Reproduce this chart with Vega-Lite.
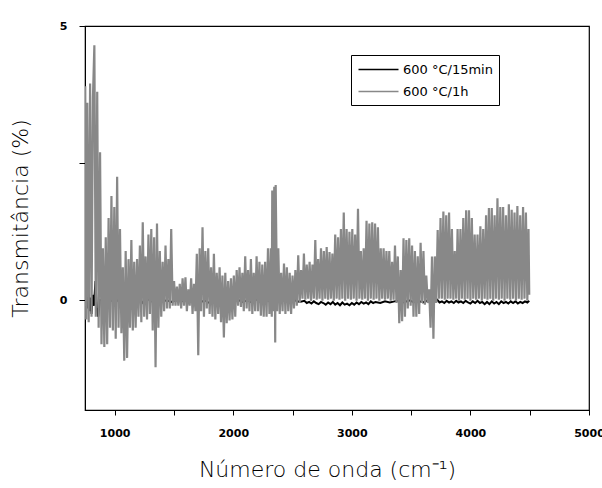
{
  "$schema": "https://vega.github.io/schema/vega-lite/v6.json",
  "autosize": "none",
  "width": 504,
  "height": 384,
  "padding": {"left": 85, "top": 26, "right": 13, "bottom": 78},
  "background": "white",
  "config": {"view": {"stroke": "black", "strokeWidth": 1.2}},
  "datasets": {
    "b": [
      {"x":750,"y":0.1},{"x":756,"y":-0.2},{"x":762,"y":0.25},{"x":770,"y":-0.15},{"x":778,"y":0.2},{"x":786,"y":-0.2},{"x":795,"y":0.05},{"x":805,"y":-0.25},{"x":815,"y":0.1},{"x":826,"y":-0.1},{"x":838,"y":0.35},{"x":850,"y":-0.15},{"x":862,"y":-0.3},{"x":875,"y":0.0},{"x":900,"y":0.02},{"x":930,"y":-0.03},{"x":960,"y":0.01},{"x":1000,"y":-0.04},{"x":1040,"y":0.02},{"x":1080,"y":-0.02},{"x":1120,"y":0.03},{"x":1160,"y":-0.03},{"x":1200,"y":0.05},{"x":1240,"y":-0.05},{"x":1280,"y":0.02},{"x":1320,"y":-0.03},{"x":1360,"y":0.02},{"x":1400,"y":-0.02},{"x":1440,"y":0.0},{"x":1480,"y":-0.03},{"x":1520,"y":0.01},{"x":1560,"y":-0.02},{"x":1600,"y":0.0},{"x":1640,"y":-0.02},{"x":1680,"y":0.01},{"x":1720,"y":-0.04},{"x":1760,"y":0.0},{"x":1800,"y":-0.05},{"x":1840,"y":-0.02},{"x":1880,"y":0.01},{"x":1920,"y":-0.03},{"x":1960,"y":0.0},{"x":2000,"y":-0.02},{"x":2040,"y":0.01},{"x":2080,"y":-0.03},{"x":2120,"y":0.0},{"x":2160,"y":-0.04},{"x":2200,"y":0.02},{"x":2240,"y":-0.05},{"x":2280,"y":0.0},{"x":2320,"y":-0.02},{"x":2360,"y":0.01},{"x":2400,"y":-0.03},{"x":2440,"y":0.02},{"x":2480,"y":-0.02},{"x":2520,"y":0.0},{"x":2560,"y":-0.03},{"x":2600,"y":-0.01},{"x":2620,"y":-0.05},{"x":2640,"y":-0.03},{"x":2660,"y":-0.06},{"x":2680,"y":-0.02},{"x":2700,"y":-0.05},{"x":2720,"y":-0.07},{"x":2740,"y":-0.03},{"x":2760,"y":-0.05},{"x":2780,"y":-0.08},{"x":2800,"y":-0.04},{"x":2820,"y":-0.07},{"x":2840,"y":-0.03},{"x":2860,"y":-0.08},{"x":2880,"y":-0.05},{"x":2900,"y":-0.09},{"x":2920,"y":-0.04},{"x":2940,"y":-0.08},{"x":2960,"y":-0.06},{"x":2980,"y":-0.09},{"x":3000,"y":-0.05},{"x":3020,"y":-0.08},{"x":3040,"y":-0.04},{"x":3060,"y":-0.07},{"x":3080,"y":-0.03},{"x":3100,"y":-0.06},{"x":3120,"y":-0.04},{"x":3140,"y":-0.07},{"x":3160,"y":-0.02},{"x":3180,"y":-0.05},{"x":3200,"y":-0.03},{"x":3240,"y":-0.05},{"x":3280,"y":-0.02},{"x":3320,"y":-0.04},{"x":3360,"y":-0.02},{"x":3400,"y":0.0},{"x":3440,"y":-0.04},{"x":3480,"y":0.0},{"x":3520,"y":-0.03},{"x":3560,"y":-0.01},{"x":3600,"y":-0.04},{"x":3640,"y":0.0},{"x":3680,"y":-0.03},{"x":3720,"y":0.01},{"x":3740,"y":-0.04},{"x":3760,"y":-0.02},{"x":3780,"y":-0.05},{"x":3800,"y":-0.01},{"x":3820,"y":-0.04},{"x":3840,"y":-0.02},{"x":3860,"y":-0.05},{"x":3880,"y":-0.01},{"x":3900,"y":-0.04},{"x":3920,"y":-0.02},{"x":3940,"y":-0.05},{"x":3960,"y":-0.01},{"x":3980,"y":-0.04},{"x":4000,"y":-0.06},{"x":4020,"y":-0.02},{"x":4040,"y":-0.05},{"x":4060,"y":-0.01},{"x":4080,"y":-0.05},{"x":4100,"y":-0.03},{"x":4120,"y":-0.07},{"x":4140,"y":-0.03},{"x":4160,"y":-0.07},{"x":4180,"y":-0.02},{"x":4200,"y":-0.06},{"x":4220,"y":-0.03},{"x":4240,"y":-0.07},{"x":4260,"y":-0.02},{"x":4280,"y":-0.05},{"x":4300,"y":-0.03},{"x":4320,"y":-0.06},{"x":4340,"y":-0.02},{"x":4360,"y":-0.05},{"x":4380,"y":-0.02},{"x":4400,"y":-0.06},{"x":4420,"y":-0.03},{"x":4440,"y":-0.05},{"x":4460,"y":-0.02},{"x":4480,"y":-0.04},{"x":4496,"y":-0.01}
    ],
    "g": [
      {"x":752,"y":3.9},{"x":760,"y":-0.35},{"x":769,"y":3.6},{"x":781,"y":-0.4},{"x":793,"y":3.95},{"x":805,"y":-0.3},{"x":817,"y":3.7},{"x":829,"y":4.65},{"x":841,"y":-0.3},{"x":853,"y":3.8},{"x":865,"y":-0.5},{"x":877,"y":2.7},{"x":889,"y":-0.8},{"x":901,"y":0.95},{"x":913,"y":-0.85},{"x":925,"y":1.15},{"x":937,"y":-0.8},{"x":949,"y":1.5},{"x":961,"y":-0.5},{"x":973,"y":1.9},{"x":985,"y":-0.55},{"x":997,"y":1.7},{"x":1009,"y":-0.7},{"x":1021,"y":2.25},{"x":1033,"y":-0.5},{"x":1045,"y":1.3},{"x":1057,"y":-0.6},{"x":1069,"y":0.6},{"x":1081,"y":-1.1},{"x":1093,"y":0.9},{"x":1105,"y":-1.05},{"x":1117,"y":0.75},{"x":1129,"y":-0.5},{"x":1141,"y":1.1},{"x":1153,"y":-0.55},{"x":1165,"y":0.7},{"x":1177,"y":-0.5},{"x":1189,"y":0.75},{"x":1201,"y":-0.3},{"x":1213,"y":1.0},{"x":1225,"y":-0.4},{"x":1237,"y":1.42},{"x":1249,"y":-0.3},{"x":1261,"y":0.8},{"x":1273,"y":-0.35},{"x":1285,"y":1.2},{"x":1297,"y":-0.25},{"x":1309,"y":1.3},{"x":1321,"y":-0.55},{"x":1333,"y":1.15},{"x":1345,"y":-1.22},{"x":1357,"y":1.4},{"x":1369,"y":-0.5},{"x":1381,"y":0.9},{"x":1393,"y":-0.3},{"x":1405,"y":0.7},{"x":1417,"y":-0.2},{"x":1429,"y":1.0},{"x":1441,"y":-0.15},{"x":1453,"y":0.75},{"x":1465,"y":-0.15},{"x":1477,"y":1.3},{"x":1489,"y":-0.1},{"x":1501,"y":0.35},{"x":1513,"y":-0.1},{"x":1525,"y":0.25},{"x":1537,"y":-0.1},{"x":1549,"y":0.3},{"x":1561,"y":-0.15},{"x":1573,"y":0.4},{"x":1585,"y":-0.1},{"x":1597,"y":0.42},{"x":1609,"y":-0.2},{"x":1621,"y":0.2},{"x":1633,"y":-0.1},{"x":1645,"y":0.4},{"x":1657,"y":-0.25},{"x":1669,"y":0.3},{"x":1681,"y":-0.2},{"x":1693,"y":0.85},{"x":1705,"y":-1.0},{"x":1717,"y":0.95},{"x":1729,"y":-0.2},{"x":1741,"y":1.33},{"x":1753,"y":-0.3},{"x":1765,"y":0.9},{"x":1777,"y":-0.15},{"x":1789,"y":0.95},{"x":1801,"y":-0.25},{"x":1813,"y":0.6},{"x":1825,"y":-0.3},{"x":1837,"y":0.85},{"x":1849,"y":-0.35},{"x":1861,"y":0.5},{"x":1873,"y":-0.25},{"x":1885,"y":0.6},{"x":1897,"y":-0.4},{"x":1909,"y":0.45},{"x":1921,"y":-0.68},{"x":1933,"y":0.5},{"x":1945,"y":-0.42},{"x":1957,"y":0.35},{"x":1969,"y":-0.37},{"x":1981,"y":0.4},{"x":1993,"y":-0.35},{"x":2005,"y":0.45},{"x":2017,"y":-0.3},{"x":2029,"y":0.55},{"x":2041,"y":-0.1},{"x":2053,"y":0.6},{"x":2065,"y":-0.12},{"x":2077,"y":0.5},{"x":2089,"y":-0.2},{"x":2101,"y":0.8},{"x":2113,"y":-0.15},{"x":2125,"y":0.55},{"x":2137,"y":-0.2},{"x":2149,"y":0.75},{"x":2161,"y":-0.25},{"x":2173,"y":0.5},{"x":2185,"y":-0.2},{"x":2197,"y":0.8},{"x":2209,"y":-0.2},{"x":2221,"y":0.7},{"x":2233,"y":-0.28},{"x":2245,"y":0.65},{"x":2257,"y":-0.3},{"x":2269,"y":0.7},{"x":2281,"y":-0.3},{"x":2293,"y":0.95},{"x":2305,"y":-0.25},{"x":2317,"y":0.95},{"x":2325,"y":-0.3},{"x":2329,"y":2.0},{"x":2338,"y":-0.2},{"x":2346,"y":2.07},{"x":2354,"y":-0.77},{"x":2358,"y":2.1},{"x":2370,"y":-0.2},{"x":2380,"y":0.95},{"x":2392,"y":-0.25},{"x":2404,"y":0.5},{"x":2416,"y":-0.2},{"x":2428,"y":0.67},{"x":2440,"y":-0.25},{"x":2452,"y":0.6},{"x":2464,"y":-0.2},{"x":2476,"y":0.5},{"x":2488,"y":-0.25},{"x":2500,"y":0.45},{"x":2512,"y":-0.15},{"x":2524,"y":0.55},{"x":2536,"y":-0.1},{"x":2548,"y":0.82},{"x":2560,"y":-0.05},{"x":2572,"y":0.55},{"x":2584,"y":0.03},{"x":2596,"y":0.85},{"x":2608,"y":0.01},{"x":2620,"y":0.65},{"x":2632,"y":0.03},{"x":2644,"y":0.7},{"x":2656,"y":-0.01},{"x":2668,"y":0.65},{"x":2680,"y":0.03},{"x":2692,"y":1.1},{"x":2704,"y":0.01},{"x":2716,"y":0.75},{"x":2728,"y":0.03},{"x":2740,"y":0.95},{"x":2752,"y":-0.01},{"x":2764,"y":0.9},{"x":2776,"y":0.03},{"x":2788,"y":0.97},{"x":2800,"y":0.01},{"x":2812,"y":0.88},{"x":2824,"y":0.03},{"x":2836,"y":0.85},{"x":2848,"y":-0.01},{"x":2860,"y":1.2},{"x":2872,"y":0.03},{"x":2884,"y":1.15},{"x":2896,"y":0.01},{"x":2908,"y":1.3},{"x":2920,"y":0.03},{"x":2932,"y":1.6},{"x":2944,"y":-0.01},{"x":2956,"y":1.3},{"x":2968,"y":0.03},{"x":2980,"y":1.25},{"x":2992,"y":0.01},{"x":3004,"y":1.3},{"x":3016,"y":0.03},{"x":3028,"y":1.2},{"x":3040,"y":-0.01},{"x":3052,"y":1.67},{"x":3064,"y":0.03},{"x":3076,"y":0.9},{"x":3088,"y":0.01},{"x":3100,"y":0.95},{"x":3112,"y":0.03},{"x":3124,"y":1.45},{"x":3136,"y":-0.01},{"x":3148,"y":1.4},{"x":3160,"y":0.03},{"x":3172,"y":1.42},{"x":3184,"y":0.01},{"x":3196,"y":1.4},{"x":3208,"y":0.03},{"x":3220,"y":1.33},{"x":3232,"y":-0.01},{"x":3244,"y":0.95},{"x":3256,"y":0.03},{"x":3268,"y":0.95},{"x":3280,"y":0.01},{"x":3292,"y":0.9},{"x":3304,"y":0.03},{"x":3316,"y":0.9},{"x":3328,"y":-0.01},{"x":3340,"y":0.7},{"x":3352,"y":0.01},{"x":3364,"y":1.0},{"x":3376,"y":-0.05},{"x":3388,"y":0.8},{"x":3400,"y":-0.42},{"x":3412,"y":0.55},{"x":3424,"y":-0.38},{"x":3436,"y":1.13},{"x":3448,"y":-0.3},{"x":3460,"y":1.1},{"x":3472,"y":-0.15},{"x":3484,"y":1.13},{"x":3496,"y":-0.1},{"x":3508,"y":1.0},{"x":3520,"y":-0.3},{"x":3532,"y":0.9},{"x":3544,"y":-0.3},{"x":3556,"y":0.8},{"x":3568,"y":-0.25},{"x":3580,"y":1.05},{"x":3592,"y":-0.05},{"x":3604,"y":0.9},{"x":3616,"y":-0.08},{"x":3628,"y":0.45},{"x":3640,"y":-0.05},{"x":3652,"y":0.2},{"x":3664,"y":-0.5},{"x":3676,"y":0.8},{"x":3688,"y":-0.7},{"x":3700,"y":0.8},{"x":3712,"y":-0.05},{"x":3724,"y":1.28},{"x":3736,"y":0.03},{"x":3748,"y":1.5},{"x":3760,"y":0.03},{"x":3772,"y":1.62},{"x":3784,"y":0.01},{"x":3796,"y":1.55},{"x":3808,"y":0.03},{"x":3820,"y":1.6},{"x":3832,"y":0.03},{"x":3844,"y":1.3},{"x":3856,"y":0.01},{"x":3868,"y":0.9},{"x":3880,"y":0.03},{"x":3892,"y":1.3},{"x":3904,"y":-0.01},{"x":3916,"y":1.3},{"x":3928,"y":0.03},{"x":3940,"y":1.5},{"x":3952,"y":0.01},{"x":3964,"y":1.64},{"x":3976,"y":0.03},{"x":3988,"y":1.64},{"x":4000,"y":-0.01},{"x":4012,"y":1.5},{"x":4024,"y":0.03},{"x":4036,"y":1.2},{"x":4048,"y":0.01},{"x":4060,"y":1.2},{"x":4072,"y":0.03},{"x":4084,"y":1.35},{"x":4096,"y":-0.01},{"x":4108,"y":1.3},{"x":4120,"y":0.03},{"x":4132,"y":1.55},{"x":4144,"y":0.01},{"x":4156,"y":1.68},{"x":4168,"y":0.03},{"x":4180,"y":1.68},{"x":4192,"y":-0.01},{"x":4204,"y":1.55},{"x":4216,"y":0.03},{"x":4228,"y":1.86},{"x":4240,"y":0.01},{"x":4252,"y":1.7},{"x":4264,"y":0.03},{"x":4276,"y":1.7},{"x":4288,"y":-0.01},{"x":4300,"y":1.55},{"x":4312,"y":0.03},{"x":4324,"y":1.75},{"x":4336,"y":0.01},{"x":4348,"y":1.65},{"x":4360,"y":0.03},{"x":4372,"y":1.6},{"x":4384,"y":-0.01},{"x":4396,"y":1.72},{"x":4408,"y":0.03},{"x":4420,"y":1.55},{"x":4432,"y":0.01},{"x":4444,"y":1.7},{"x":4456,"y":0.03},{"x":4468,"y":1.6},{"x":4480,"y":-0.01},{"x":4490,"y":1.3},{"x":4496,"y":0.1}
    ]
  },
  "encoding": {
    "x": {
      "field": "x", "type": "quantitative",
      "scale": {"domain": [750, 5000], "nice": false, "zero": false},
      "axis": {
        "title": "Número de onda (cm⁻¹)",
        "titleX": 242,
        "values": [1000, 1500, 2000, 2500, 3000, 3500, 4000, 4500, 5000],
        "labelExpr": "datum.value % 1000 === 0 ? datum.label : ''",
        "format": "d",
        "grid": false, "tickSize": 5, "tickColor": "black", "domainColor": "black",
        "labelFlush": false, "labelOverlap": false,
        "labelFont": "DejaVu Sans", "labelFontWeight": "bold", "labelFontSize": 11, "labelColor": "black", "labelPadding": 12,
        "titleFont": "DejaVu Sans", "titleFontSize": 22, "titleFontWeight": 200, "titleColor": "#000000", "titlePadding": 21
      }
    },
    "y": {
      "field": "y", "type": "quantitative",
      "scale": {"domain": [-2, 5], "nice": false, "zero": false},
      "axis": {
        "title": "Transmitância (%)",
        "values": [0, 2.5, 5],
        "labelExpr": "datum.value === 2.5 ? '' : datum.label",
        "grid": false, "tickSize": 6, "tickColor": "black", "domainColor": "black",
        "labelFlush": false, "labelOverlap": false,
        "labelFont": "DejaVu Sans", "labelFontWeight": "bold", "labelFontSize": 11, "labelColor": "black", "labelPadding": 12,
        "titleFont": "DejaVu Sans", "titleFontSize": 22, "titleFontWeight": 200, "titleColor": "#000000", "titlePadding": 27
      }
    }
  },
  "layer": [
    {
      "data": {"name": "b"},
      "mark": {"type": "line", "strokeWidth": 2, "clip": true},
      "encoding": {
        "color": {
          "datum": "600 °C/15min",
          "scale": {"domain": ["600 °C/15min", "600 °C/1h"], "range": ["#000000", "#888888"]},
          "legend": {
            "title": null, "orient": "none", "legendX": 266, "legendY": 29,
            "symbolType": "M-2.667,0H2.667", "symbolSize": 225, "symbolStrokeWidth": 1.5, "symbolOffset": 13,
            "labelFont": "DejaVu Sans", "labelFontSize": 13, "labelColor": "black", "labelOffset": 16,
            "strokeColor": "black", "fillColor": "white", "padding": 6, "rowPadding": 6
          }
        }
      }
    },
    {
      "data": {"name": "g"},
      "mark": {"type": "line", "strokeWidth": 2.2, "strokeJoin": "bevel", "clip": true},
      "encoding": {
        "color": {"datum": "600 °C/1h"}
      }
    }
  ]
}
